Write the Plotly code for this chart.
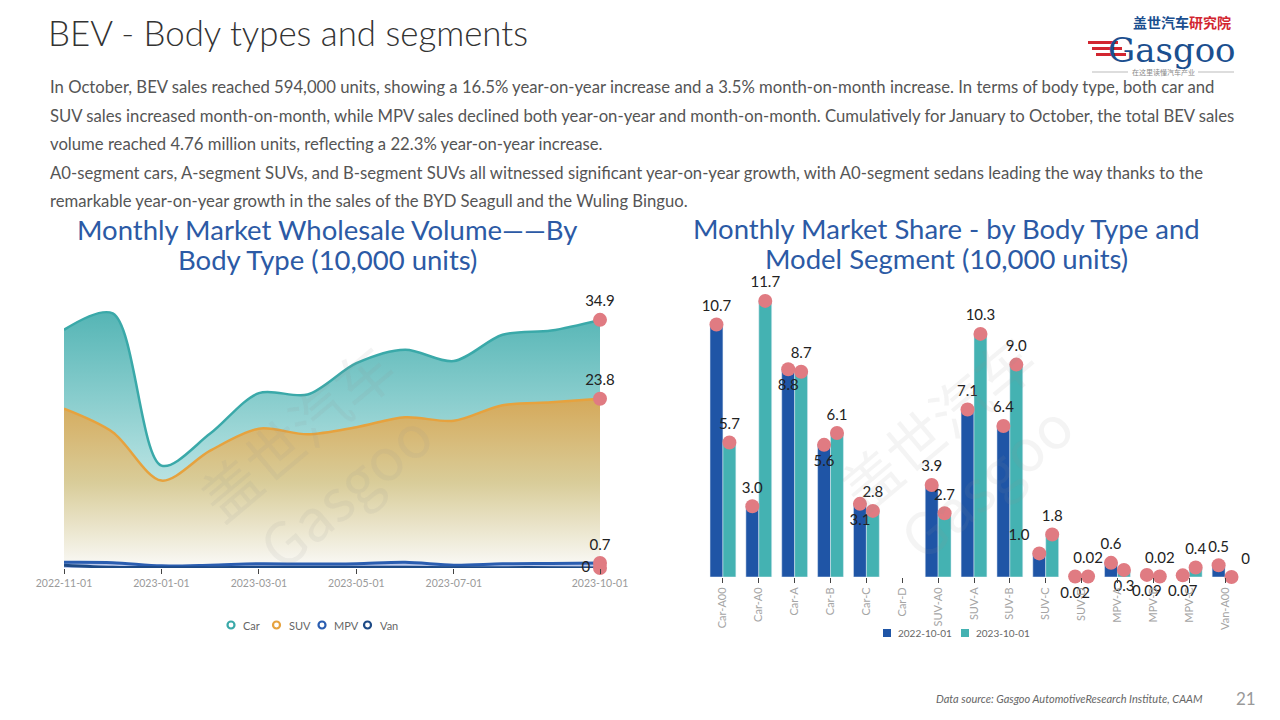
import plotly.graph_objects as go

# ---------------- data ----------------
months = ["2022-11-01", "2022-12-01", "2023-01-01", "2023-02-01", "2023-03-01", "2023-04-01",
          "2023-05-01", "2023-06-01", "2023-07-01", "2023-08-01", "2023-09-01", "2023-10-01"]
month_ticks = ["2022-11-01", "2023-01-01", "2023-03-01", "2023-05-01", "2023-07-01", "2023-10-01"]
car = [33.5, 35.8, 14.4, 18.9, 24.6, 24.4, 28.8, 30.7, 29.1, 32.8, 33.4, 34.9]
suv = [22.4, 19.1, 12.3, 16.5, 19.6, 18.8, 19.8, 21.2, 20.7, 22.9, 23.3, 23.8]
mpv = [0.8, 0.75, 0.3, 0.4, 0.6, 0.55, 0.6, 0.8, 0.4, 0.6, 0.65, 0.7]
van = [0.4, 0.1, 0.05, 0.05, 0.1, 0.1, 0.1, 0.1, 0.05, 0.05, 0.05, 0.0]
body_types = ["Car", "SUV", "MPV", "Van"]

segments = ["Car-A00", "Car-A0", "Car-A", "Car-B", "Car-C", "Car-D", "SUV-A0", "SUV-A", "SUV-B",
            "SUV-C", "SUV-D", "MPV-A", "MPV-B", "MPV-C", "Van-A00"]
periods = ["2022-10-01", "2023-10-01"]
seg_2022 = [10.7, 3.0, 8.8, 5.6, 3.1, None, 3.9, 7.1, 6.4, 1.0, 0.02, 0.6, 0.09, 0.07, 0.5]
seg_2023 = [5.7, 11.7, 8.7, 6.1, 2.8, None, 2.7, 10.3, 9.0, 1.8, 0.02, 0.3, 0.02, 0.4, 0]
lab_pos_2022 = ["top center", "top center", "bottom center", "bottom center", "bottom center", "top center",
                "top center", "top center", "top center", "top left", "bottom center", "top center",
                "bottom center", "bottom center", "top center"]
lab_pos_2023 = ["top center", "top center", "top center", "top center", "top center", "top center",
                "top center", "top center", "top center", "top center", "top center", "bottom center",
                "top center", "top center", "top right"]

# ---------------- styles ----------------
C_CAR, C_SUV, C_MPV, C_VAN = "#3aa9a9", "#e6a23e", "#2a5db0", "#1d4a86"
C_BLUE, C_TEAL, C_PT = "#1f55a6", "#44b2b2", "#e07b82"
TITLE_BLUE = "#2c5aa5"
FONT = "Lato"


def fmt(v):
    if v == 0:
        return "0"
    return f"{v:.2f}" if v < 0.1 else f"{v:.1f}"


def X(px):
    return px / 1280


def Y(px):
    return 1 - px / 720


fig = go.Figure()

# ---------------- left chart ----------------
fig.add_trace(go.Scatter(x=months, y=car, name="Car", mode="lines",
                         line=dict(color=C_CAR, width=2.5, shape="spline", smoothing=0.9), fill="tozeroy",
                         fillgradient=dict(type="vertical", colorscale=[[0, "rgba(235,245,242,1)"], [0.45, "#a9dcdc"], [1, "#55b5b5"]]),
                         showlegend=False, hoverinfo="skip", xaxis="x", yaxis="y"))
fig.add_trace(go.Scatter(x=months, y=suv, name="SUV", mode="lines",
                         line=dict(color=C_SUV, width=2.5, shape="spline", smoothing=0.9), fill="tozeroy",
                         fillgradient=dict(type="vertical", colorscale=[[0, "rgba(250,250,248,1)"], [0.5, "#d9cd9a"], [1, "#d5a95a"]]),
                         showlegend=False, hoverinfo="skip", xaxis="x", yaxis="y"))
fig.add_trace(go.Scatter(x=months, y=mpv, name="MPV", mode="lines",
                         line=dict(color=C_MPV, width=3, shape="spline", smoothing=0.9),
                         fill="tozeroy", fillcolor="rgba(180,195,235,0.9)",
                         showlegend=False, hoverinfo="skip", xaxis="x", yaxis="y"))
fig.add_trace(go.Scatter(x=months, y=van, name="Van", mode="lines",
                         line=dict(color=C_VAN, width=3, shape="spline", smoothing=0.9),
                         showlegend=False, hoverinfo="skip", xaxis="x", yaxis="y"))

for series, pos in [(car, "top center"), (suv, "top center"), (mpv, "top center"), (van, "middle left")]:
    fig.add_trace(go.Scatter(x=[months[-1]], y=[series[-1]], mode="markers+text",
                             marker=dict(color=C_PT, size=14),
                             text=[f"{series[-1]:g}"], textposition=pos,
                             textfont=dict(family=FONT, size=15, color="#222"),
                             showlegend=False, hoverinfo="skip", cliponaxis=False, xaxis="x", yaxis="y"))

# ---------------- right chart ----------------
idx = list(range(len(segments)))
fig.add_trace(go.Bar(x=idx, y=seg_2022, name=periods[0], marker_color=C_BLUE, showlegend=False,
                     xaxis="x2", yaxis="y2", hoverinfo="skip"))
fig.add_trace(go.Bar(x=idx, y=seg_2023, name=periods[1], marker_color=C_TEAL, showlegend=False,
                     xaxis="x2", yaxis="y2", hoverinfo="skip"))

half = 0.18
for vals, off, pos in [(seg_2022, -half, lab_pos_2022), (seg_2023, half, lab_pos_2023)]:
    xs = [i + off for i, v in zip(idx, vals) if v is not None]
    ys = [v for v in vals if v is not None]
    ps = [p for p, v in zip(pos, vals) if v is not None]
    fig.add_trace(go.Scatter(x=xs, y=ys, mode="markers+text", marker=dict(color=C_PT, size=14),
                             text=[fmt(v) for v in ys], textposition=ps,
                             textfont=dict(family=FONT, size=15, color="#222"),
                             showlegend=False, hoverinfo="skip", cliponaxis=False, xaxis="x2", yaxis="y2"))

# ---------------- layout ----------------
fig.update_layout(
    width=1280, height=720, margin=dict(l=0, r=0, t=0, b=0, autoexpand=False),
    paper_bgcolor="white", plot_bgcolor="white", showlegend=False,
    font=dict(family=FONT, color="#555"),
    barmode="group", bargap=0.28, bargroupgap=0,
    xaxis=dict(domain=[X(64), X(600)], type="category", range=[0, 11],
               tickmode="array", tickvals=month_ticks, ticktext=month_ticks,
               tickfont=dict(size=10.5, color="#9a9a9a"), ticks="outside", ticklen=5, tickcolor="#444",
               showgrid=False, zeroline=False, showline=False, fixedrange=True, anchor="y"),
    yaxis=dict(domain=[Y(568), Y(290)], range=[0, 39.1], visible=False, fixedrange=True, anchor="x"),
    xaxis2=dict(domain=[X(705), X(1243)], range=[-0.5, 14.5], tickmode="array", tickvals=idx, ticktext=segments,
                tickangle=-90, tickfont=dict(size=11, color="#a5a5a5"), ticks="outside", ticklen=5, tickcolor="#444",
                showgrid=False, zeroline=False, showline=False, anchor="y2", fixedrange=True),
    yaxis2=dict(domain=[Y(577), Y(280)], range=[0, 12.585], visible=False, anchor="x2", fixedrange=True),
)

ann = []
shapes = []


def add_text(text, px, py, xanchor="left", size=15, color="#555", family=FONT, weight="normal", **kw):
    ann.append(dict(text=text, x=X(px), y=Y(py), xref="paper", yref="paper", xanchor=xanchor, yanchor="middle",
                    font=dict(size=size, color=color, family=family, weight=weight), showarrow=False, **kw))


# main title
add_text("BEV - Body types and segments", 46, 33, size=34.8, color="#333", weight=300)
para = [
    "In October, BEV sales reached 594,000 units, showing a 16.5% year-on-year increase and a 3.5% month-on-month increase. In terms of body type, both car and",
    "SUV sales increased month-on-month, while MPV sales declined both year-on-year and month-on-month. Cumulatively for January to October, the total BEV sales",
    "volume reached 4.76 million units, reflecting a 22.3% year-on-year increase.",
    "A0-segment cars, A-segment SUVs, and B-segment SUVs all witnessed significant year-on-year growth, with A0-segment sedans leading the way thanks to the",
    "remarkable year-on-year growth in the sales of the BYD Seagull and the Wuling Binguo.",
]
for i, line in enumerate(para):
    add_text(line, 48, 87 + 28.6 * i, size=16.7, color="#555")
# chart titles
for i, line in enumerate(["Monthly Market Wholesale Volume——By", "Body Type (10,000 units)"]):
    add_text(line, 327, 229 + 30 * i, xanchor="center", size=27.5, color=TITLE_BLUE)
for i, line in enumerate(["Monthly Market Share - by Body Type and", "Model Segment (10,000 units)"]):
    add_text(line, 946, 228 + 30 * i, xanchor="center", size=27.5, color=TITLE_BLUE)
# watermarks
for cx, cy in [(320, 460), (960, 450)]:
    add_text("盖世汽车<br>Gasgoo", cx, cy, xanchor="center", size=58, color="rgba(150,150,150,0.10)",
             family="Noto Sans CJK SC", textangle=-40)

# legends (left: hollow circles, right: squares)
for k, (name, col) in enumerate(zip(body_types, [C_CAR, C_SUV, C_MPV, C_VAN])):
    cx = 231 + 45.5 * k
    shapes.append(dict(type="circle", xref="paper", yref="paper", x0=X(cx - 3.5), x1=X(cx + 3.5),
                       y0=Y(625 + 3.5), y1=Y(625 - 3.5), line=dict(color=col, width=2.2), fillcolor="white"))
    add_text(name, cx + 10, 625, size=11, color="#666")
for k, (name, col) in enumerate(zip(periods, [C_BLUE, C_TEAL])):
    cx = 887 + 78 * k
    shapes.append(dict(type="rect", xref="paper", yref="paper", x0=X(cx - 4), x1=X(cx + 4),
                       y0=Y(633 + 4), y1=Y(633 - 4), line=dict(width=0), fillcolor=col))
    add_text(name, cx + 9, 633, size=10, color="#666")

# footer
add_text("<i>Data source: Gasgoo AutomotiveResearch Institute, CAAM</i>", 1205, 698, xanchor="right", size=11,
         color="#666")
add_text("21", 1258, 698, xanchor="right", size=17, color="#999")
# logo
add_text("<b>盖世汽车</b>", 1191, 22, xanchor="right", size=14, color="#1b4f8f", family="Noto Sans CJK SC")
add_text("<b>研究院</b>", 1187, 22, xanchor="left", size=14, color="#d22630", family="Noto Sans CJK SC")
add_text("Gasgoo", 1238, 50, xanchor="right", size=34, color="#1b4f8f", family="DejaVu Serif")
add_text("在这里读懂汽车产业", 1163, 72, xanchor="center", size=7, color="#888", family="Noto Sans CJK SC")

for k in range(3):
    shapes.append(dict(type="rect", xref="paper", yref="paper", x0=X(1088 + 4 * k), x1=X(1118 + 4 * k),
                       y0=Y(44 + 6 * k), y1=Y(41 + 6 * k), fillcolor="#d22630", line=dict(width=0)))
shapes.append(dict(type="line", xref="paper", yref="paper", x0=X(1092), x1=X(1128), y0=Y(72), y1=Y(72),
                   line=dict(color="#bbb", width=1)))
shapes.append(dict(type="line", xref="paper", yref="paper", x0=X(1198), x1=X(1234), y0=Y(72), y1=Y(72),
                   line=dict(color="#bbb", width=1)))

fig.update_layout(annotations=ann, shapes=shapes)

fig.write_html("out.html")
